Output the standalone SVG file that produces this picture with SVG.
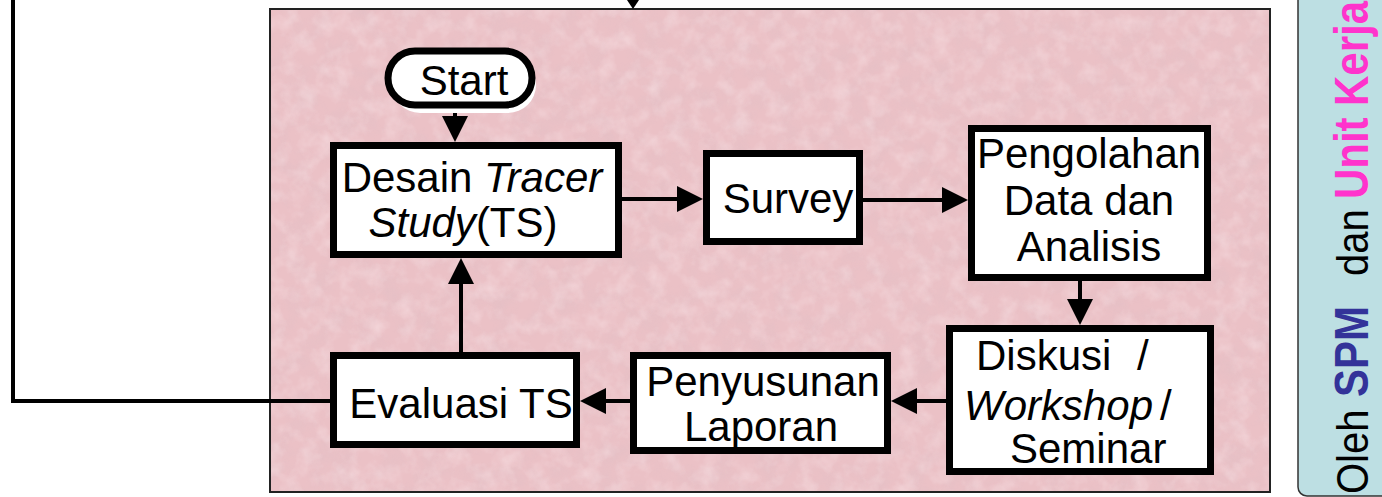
<svg xmlns="http://www.w3.org/2000/svg" width="1382" height="497" viewBox="0 0 1382 497">
<style>
.box{fill:#fff;stroke:#000;stroke-width:7}
.t{font-family:"Liberation Sans",Arial,sans-serif;font-size:42px;fill:#000}
.c{text-anchor:middle}
.i{font-style:italic}
.ln{fill:none;stroke:#000;stroke-width:4}
.side{font-family:"Liberation Sans",Arial,sans-serif;font-size:40px;fill:#000}
.b{font-weight:bold;font-size:42px}
</style>
<defs>
<marker id="ah" markerUnits="userSpaceOnUse" markerWidth="30" markerHeight="30" refX="16" refY="13" orient="auto" viewBox="0 0 30 30">
<path d="M0,0 L26,13 L0,26 Z" fill="#000"/>
</marker>
<filter id="noise" x="0" y="0" width="100%" height="100%">
<feTurbulence type="fractalNoise" baseFrequency="0.045" numOctaves="4" seed="7" result="n"/>
<feColorMatrix in="n" type="matrix" values="0 0 0 0 0.72  0 0 0 0 0.52  0 0 0 0 0.56  1.1 0 0 0 -0.42"/>
</filter>
<filter id="noise2" x="0" y="0" width="100%" height="100%">
<feTurbulence type="fractalNoise" baseFrequency="0.06" numOctaves="3" seed="21" result="n"/>
<feColorMatrix in="n" type="matrix" values="0 0 0 0 1  0 0 0 0 0.9  0 0 0 0 0.92  1.1 0 0 0 -0.45"/>
</filter>
</defs>
<rect width="1382" height="497" fill="#fff"/>
<g id="panel">
<rect x="270" y="9" width="1000" height="483" fill="#EBC1C6"/>
<rect x="270" y="9" width="1000" height="483" filter="url(#noise)" opacity="0.6"/>
<rect x="270" y="9" width="1000" height="483" filter="url(#noise2)" opacity="0.6"/>
<rect x="270" y="9" width="1000" height="483" fill="none" stroke="#222" stroke-width="2"/>
</g>
<g id="side-panel">
<rect x="1298" y="-20" width="120" height="516" rx="9" fill="#BDDFE3" stroke="#333" stroke-width="1.5"/>
<text class="side" transform="translate(1368,495) rotate(-90) scale(1,1.13)"><tspan x="1">Oleh</tspan><tspan x="98" class="b" fill="#333399">SPM</tspan><tspan x="219">dan</tspan><tspan x="296" class="b" fill="#FF33CC">Unit</tspan><tspan x="389" class="b" fill="#FF33CC">Kerja</tspan></text>
</g>
<g id="connectors">
<polyline class="ln" points="335,401 13,401 13,-5" stroke-width="5"/>
<polygon points="627,0 639,0 633,9" fill="#000"/>
<line class="ln" x1="455" y1="108" x2="455" y2="132" marker-end="url(#ah)"/>
<line class="ln" x1="622" y1="199" x2="693" y2="199" marker-end="url(#ah)"/>
<line class="ln" x1="863" y1="200" x2="958" y2="200" stroke-width="3" marker-end="url(#ah)"/>
<line class="ln" x1="1080" y1="281" x2="1080" y2="315" stroke-width="7" marker-end="url(#ah)"/>
<line class="ln" x1="946" y1="401" x2="901" y2="401" stroke-width="5" marker-end="url(#ah)"/>
<line class="ln" x1="630" y1="401" x2="590" y2="401" stroke-width="3" marker-end="url(#ah)"/>
<line class="ln" x1="461" y1="353" x2="461" y2="268" marker-end="url(#ah)"/>
</g>
<g id="start">
<rect x="392" y="57" width="144" height="56" rx="28" fill="#fff"/>
<rect x="388" y="51" width="144" height="54" rx="27" class="box"/>
<text class="t c" x="464" y="95">Start</text>
</g>
<g id="desain">
<rect class="box" x="333.5" y="145.5" width="285" height="109"/>
<text class="t c" x="472" y="192">Desain <tspan class="i">Tracer</tspan></text>
<text class="t c" x="463" y="237"><tspan class="i">Study</tspan>(TS)</text>
</g>
<g id="survey">
<rect class="box" x="706.5" y="153.5" width="153" height="88"/>
<text class="t c" x="788" y="213">Survey</text>
</g>
<g id="pengolahan">
<rect class="box" x="971.5" y="128.5" width="236" height="149"/>
<text class="t c" x="1089" y="168">Pengolahan</text>
<text class="t c" x="1089" y="215">Data dan</text>
<text class="t c" x="1089" y="261">Analisis</text>
</g>
<g id="diskusi">
<rect class="box" x="949.5" y="328.5" width="261" height="143"/>
<text class="t" x="976" y="370">Diskusi</text>
<text class="t" x="1137" y="370">/</text>
<text class="t i" x="964" y="420">Workshop</text>
<text class="t" x="1160" y="420">/</text>
<text class="t" x="1010" y="463">Seminar</text>
</g>
<g id="penyusunan">
<rect class="box" x="633.5" y="355.5" width="254" height="95"/>
<text class="t c" x="763" y="396">Penyusunan</text>
<text class="t c" x="761" y="441">Laporan</text>
</g>
<g id="evaluasi">
<rect class="box" x="333.5" y="355.5" width="243" height="89"/>
<text class="t c" x="461" y="418">Evaluasi TS</text>
</g>
</svg>
